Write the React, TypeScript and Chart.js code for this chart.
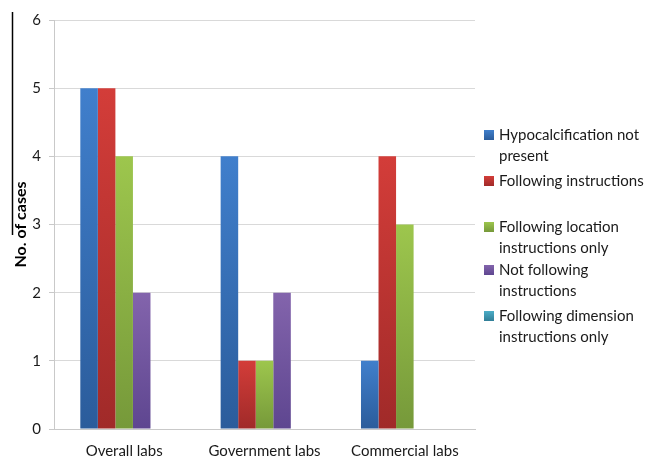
import React, { useEffect, useRef } from "react";
import { Chart, registerables } from "chart.js";

Chart.register(...registerables);

// Lab categories and case counts per outcome
const categories = ["Overall labs", "Government labs", "Commercial labs"];

const seriesNames = [
  "Hypocalcification not present",
  "Following instructions",
  "Following location instructions only",
  "Not following instructions",
  "Following dimension instructions only",
];

// Wrapped legend text for each series
const legendLines: string[][] = [
  ["Hypocalcification not", "present"],
  ["Following instructions"],
  ["Following location", "instructions only"],
  ["Not following", "instructions"],
  ["Following dimension", "instructions only"],
];

const hypocalcificationNotPresent = [5, 4, 1];
const followingInstructions = [5, 1, 4];
const followingLocationOnly = [4, 1, 3];
const notFollowing = [2, 2, 0];
const followingDimensionOnly = [0, 0, 0];

const yTicks = [0, 1, 2, 3, 4, 5, 6];

// [top, bottom, legend swatch]
const palette: [string, string, string][] = [
  ["#407fcc", "#2b5c9b", "#3c73bd"],
  ["#d33d39", "#a02a29", "#c0393a"],
  ["#9dc64d", "#76993a", "#8db447"],
  ["#8364ac", "#5e4690", "#7456a0"],
  ["#4cadc7", "#317e97", "#3ea2c2"],
];

const FONT = "Lato, 'Open Sans', sans-serif";

function barFill(idx: number) {
  return (ctx: any) => {
    const chart = ctx.chart;
    const [top, bottom, mid] = palette[idx];
    if (!chart.chartArea || ctx.type !== "data" || !ctx.parsed) return mid;
    const y = chart.scales.y;
    const yTop = y.getPixelForValue(ctx.parsed.y);
    const yBase = y.getPixelForValue(0);
    if (!isFinite(yTop) || yBase - yTop < 1) return mid;
    const g = chart.ctx.createLinearGradient(0, yTop, 0, yBase);
    g.addColorStop(0, top);
    g.addColorStop(1, bottom);
    return g;
  };
}

// Right-hand legend with wrapped labels, plus the frame rule at the left edge
const sideLegend = {
  id: "sideLegend",
  afterDraw(chart: any) {
    const c = chart.ctx;
    c.save();
    // thin rule along the left edge
    c.strokeStyle = "#000";
    c.lineWidth = 1.5;
    c.beginPath();
    c.moveTo(12.5, 12);
    c.lineTo(12.5, 235);
    c.stroke();

    const startY = [135, 181, 227, 270, 316];
    const lineH = 21;
    c.font = `15px ${FONT}`;
    c.textBaseline = "middle";
    c.textAlign = "left";
    legendLines.forEach((lines, i) => {
      const y0 = startY[i];
      const [top, bottom] = palette[i];
      const g = c.createLinearGradient(0, y0 - 5, 0, y0 + 5);
      g.addColorStop(0, top);
      g.addColorStop(1, bottom);
      c.fillStyle = g;
      c.fillRect(484, y0 - 5, 10, 10);
      c.fillStyle = "#1a1a1a";
      lines.forEach((t, j) => c.fillText(t, 499, y0 + j * lineH));
    });
    c.restore();
  },
};

export default function App() {
  const ref = useRef<HTMLCanvasElement | null>(null);

  useEffect(() => {
    if (!ref.current) return;
    const values = [
      hypocalcificationNotPresent,
      followingInstructions,
      followingLocationOnly,
      notFollowing,
      followingDimensionOnly,
    ];
    const chart = new Chart(ref.current, {
      type: "bar",
      data: {
        labels: categories,
        datasets: values.map((data, i) => ({
          label: seriesNames[i],
          data,
          backgroundColor: barFill(i),
          borderWidth: 0,
          categoryPercentage: 0.625,
          barPercentage: 1,
        })),
      },
      options: {
        animation: false,
        responsive: false,
        maintainAspectRatio: false,
        layout: { padding: { left: 0, right: 171, top: 20, bottom: 0 } },
        plugins: {
          legend: { display: false },
          tooltip: { enabled: false },
        },
        scales: {
          x: {
            grid: { display: false, drawTicks: false },
            border: { display: true, color: "#c9c9c9", width: 1 },
            ticks: {
              color: "#1a1a1a",
              font: { family: FONT, size: 15 },
              padding: 13,
              maxRotation: 0,
            },
            afterFit: (s: any) => {
              s.height = 30;
            },
          },
          y: {
            min: 0,
            max: 6,
            afterBuildTicks: (s: any) => {
              s.ticks = yTicks.map((v) => ({ value: v }));
            },
            grid: {
              color: "#d9d9d9",
              lineWidth: 1,
              drawTicks: true,
              tickLength: 5,
              tickColor: "#c9c9c9",
            },
            border: { display: true, color: "#c9c9c9", width: 1 },
            ticks: {
              color: "#1a1a1a",
              font: { family: FONT, size: 15 },
              padding: 8,
            },
            title: {
              display: true,
              text: "No. of cases",
              color: "#000",
              font: { family: FONT, size: 16, weight: "bold" },
              padding: { top: 11, bottom: 0 },
            },
            afterFit: (s: any) => {
              s.width = 54;
            },
          },
        },
      },
      plugins: [sideLegend],
    });
    return () => chart.destroy();
  }, []);

  return (
    <div style={{ position: "fixed", left: 0, top: 0, width: 646, height: 459, background: "#fff" }}>
      <canvas ref={ref} width={646} height={459} style={{ display: "block" }} />
    </div>
  );
}
